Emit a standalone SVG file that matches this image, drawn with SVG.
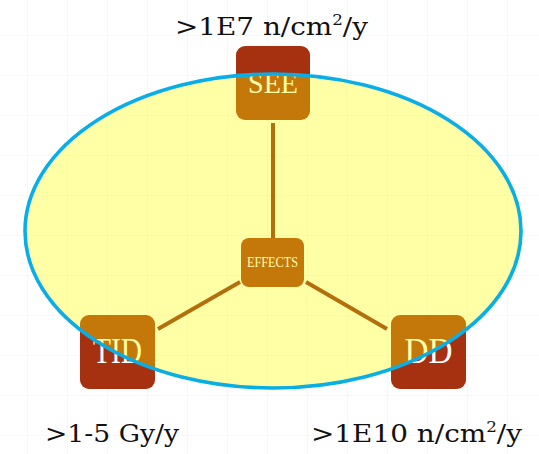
<svg xmlns="http://www.w3.org/2000/svg" width="539" height="454" viewBox="0 0 539 454">
  <defs>
    <pattern id="grid" x="27" y="35" width="40" height="40" patternUnits="userSpaceOnUse">
      <path d="M0 0 H40 M0 0 V40" fill="none" stroke="#f1f1f1" stroke-width="1.2"/>
    </pattern>
    <style>
      .box { fill: #a53110; }
      .lbl { font-family: "Liberation Serif", "DejaVu Serif", serif; fill: #ffffff; text-anchor: middle; }
      .rate { font-family: "DejaVu Serif", "Liberation Serif", serif; font-size: 25px; fill: #111111; }
      .sup { font-size: 15px; }
      .link { stroke: #8a2312; stroke-width: 4; fill: none; }
    </style>
  </defs>

  <rect width="539" height="454" fill="#ffffff"/>
  <rect width="539" height="454" fill="url(#grid)"/>

  <!-- connectors from the centre node to each effect -->
  <g id="connectors">
    <line class="link" x1="273" y1="123" x2="273" y2="238"/>
    <line class="link" x1="158" y1="329" x2="240" y2="282"/>
    <line class="link" x1="306" y1="282" x2="387" y2="329"/>
  </g>

  <g id="node-see">
    <rect class="box" x="236" y="46" width="74" height="74" rx="9"/>
    <text class="lbl" x="273" y="93" font-size="30" textLength="50" lengthAdjust="spacingAndGlyphs">SEE</text>
  </g>
  <g id="node-tid">
    <rect class="box" x="80" y="315" width="75" height="74" rx="9"/>
    <text class="lbl" x="117.5" y="363" font-size="36" textLength="49" lengthAdjust="spacingAndGlyphs">TID</text>
  </g>
  <g id="node-dd">
    <rect class="box" x="391" y="315" width="75" height="74" rx="9"/>
    <text class="lbl" x="428.5" y="363" font-size="36" textLength="48" lengthAdjust="spacingAndGlyphs">DD</text>
  </g>
  <g id="node-effects">
    <rect class="box" x="241" y="238" width="63" height="49" rx="8"/>
    <text class="lbl" x="272.5" y="267" font-size="15" textLength="51" lengthAdjust="spacingAndGlyphs">EFFECTS</text>
  </g>

  <!-- translucent yellow region over everything -->
  <ellipse id="region" cx="273" cy="231" rx="248" ry="157" fill="#ffff00" fill-opacity="0.35" stroke="#0aaee6" stroke-width="3.6"/>

  <g id="rates">
    <text class="rate" x="175" y="35" textLength="193" lengthAdjust="spacingAndGlyphs">&gt;1E7 n/cm<tspan class="sup" dy="-10">2</tspan><tspan dy="10">/y</tspan></text>
    <text class="rate" x="45" y="442" textLength="134" lengthAdjust="spacingAndGlyphs">&gt;1-5 Gy/y</text>
    <text class="rate" x="311" y="442" textLength="211" lengthAdjust="spacingAndGlyphs">&gt;1E10 n/cm<tspan class="sup" dy="-10">2</tspan><tspan dy="10">/y</tspan></text>
  </g>
</svg>
